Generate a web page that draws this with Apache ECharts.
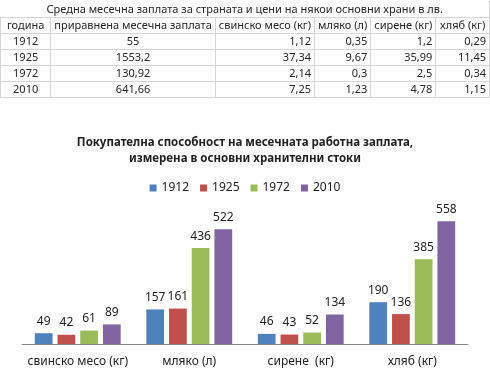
<!DOCTYPE html>
<html>
<head>
<meta charset="utf-8">
<script src="https://cdn.jsdelivr.net/npm/echarts@6/dist/echarts.min.js"></script>
<style>
  body { margin: 0; width: 490px; height: 376px; overflow: hidden; background: #fff; font-family: 'Noto Sans', sans-serif; }
  #chart { position: absolute; left: 0; top: 0; width: 490px; height: 376px; }
  #table { position: absolute; left: 0; top: 1px; border-collapse: collapse; table-layout: fixed; font-size: 11px; color: #262626; }
  #table tr { height: 16px; }
  #table td { border: 1px solid #d6d6d6; padding: 0 3px; line-height: 14px; white-space: nowrap; overflow: hidden; text-align: right; }
  #table td.c { text-align: center; }
  #table tr.head td { text-align: center; }
  #table tr.title td { border-top: none; border-left: none; }
</style>
</head>
<body>
<div id="chart"></div>
<table id="table">
  <colgroup>
    <col style="width:55px"><col style="width:162px"><col style="width:96px">
    <col style="width:54px"><col style="width:65px"><col style="width:55px">
  </colgroup>
  <tbody id="tbody"></tbody>
</table>
<script>
// таблица с цените
const tableTitle = 'Средна месечна заплата за страната и цени на някои основни храни в лв.';
const tableHeader = ['година', 'приравнена месечна заплата', 'свинско месо (кг)', 'мляко (л)', 'сирене  (кг)', 'хляб (кг)'];
const tableYears = ['1912', '1925', '1972', '2010'];
const wages = ['55', '1553,2', '130,92', '641,66'];
const porkPrice = ['1,12', '37,34', '2,14', '7,25'];
const milkPrice = ['0,35', '9,67', '0,3', '1,23'];
const cheesePrice = ['1,2', '35,99', '2,5', '4,78'];
const breadPrice = ['0,29', '11,45', '0,34', '1,15'];

// данни за графиката
const categories = ['свинско месо (кг)', 'мляко (л)', 'сирене  (кг)', 'хляб (кг)'];
const years = ['1912', '1925', '1972', '2010'];
const values1912 = [49, 157, 46, 190];
const values1925 = [42, 161, 43, 136];
const values1972 = [61, 436, 52, 385];
const values2010 = [89, 522, 134, 558];
const colors = ['#4F81BD', '#C0504D', '#9BBB59', '#8064A2'];

// строим таблицата
const tbody = document.getElementById('tbody');
let html = '<tr class="title"><td class="c" colspan="6">' + tableTitle + '</td></tr>';
html += '<tr class="head">' + tableHeader.map(h => '<td>' + h + '</td>').join('') + '</tr>';
tableYears.forEach((y, i) => {
  html += '<tr><td class="c">' + y + '</td><td class="c">' + wages[i] + '</td><td>' + porkPrice[i] +
    '</td><td>' + milkPrice[i] + '</td><td>' + cheesePrice[i] + '</td><td>' + breadPrice[i] + '</td></tr>';
});
tbody.innerHTML = html;

const chart = echarts.init(document.getElementById('chart'));
const seriesData = [values1912, values1925, values1972, values2010];

chart.setOption({
  animation: false,
  textStyle: { fontFamily: 'Noto Sans' },
  title: {
    text: 'Покупателна способност на месечната работна заплата,\nизмерена в основни хранителни стоки',
    left: 'center',
    top: 130,
    textStyle: { fontSize: 11.5, fontWeight: 'bold', lineHeight: 16, color: '#222' }
  },
  legend: {
    top: 177,
    left: 'center',
    icon: 'rect',
    itemWidth: 7,
    itemHeight: 7,
    itemGap: 11,
    textStyle: { fontSize: 12, color: '#222' },
    data: years
  },
  grid: { left: 22, right: 22, top: 212, bottom: 32 },
  xAxis: {
    type: 'category',
    data: categories,
    axisLine: { lineStyle: { color: '#868686' } },
    axisTick: { show: false },
    axisLabel: { interval: 0, fontSize: 12, color: '#222', margin: 12 }
  },
  yAxis: { type: 'value', min: 0, max: 600, show: false },
  series: years.map((y, i) => ({
    name: y,
    type: 'bar',
    data: seriesData[i],
    barGap: '28%',
    barCategoryGap: '23%',
    itemStyle: { color: colors[i] },
    label: { show: true, position: 'top', distance: 6, fontSize: 12, color: '#222' }
  }))
});
</script>
</body>
</html>
